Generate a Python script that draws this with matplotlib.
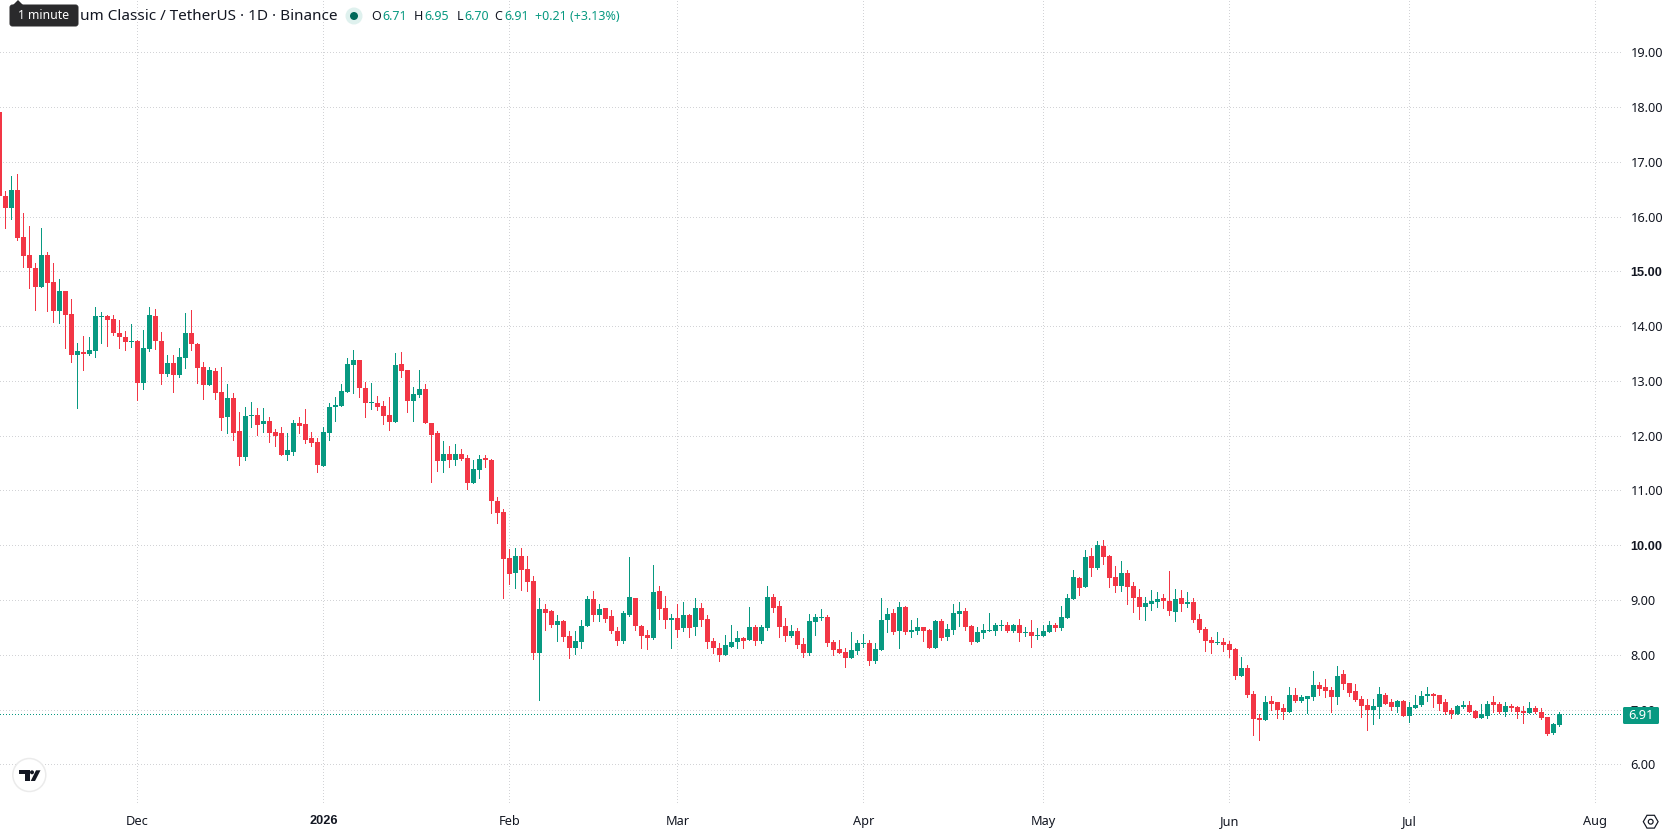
import matplotlib
matplotlib.use("Agg")

import matplotlib.pyplot as plt
import numpy as np
import pandas as pd
from matplotlib.patches import Circle, FancyBboxPatch, Polygon, RegularPolygon

plt.rcParams["font.family"] = ["Noto Sans", "DejaVu Sans"]

UP = "#089981"
DOWN = "#F23645"
INK = "#131722"
GRID = "#D2D3D6"
DOTTED = (0, (0.8, 2.2))
PX = 0.72  # one pixel in points at dpi 100

start_date = "2025-11-08"

opens = [
    17.91, 16.38, 16.15, 16.49, 15.62, 15.29, 15.06, 14.72, 15.29, 14.80,
    14.27, 14.65, 14.22, 13.47, 13.53, 13.49, 13.55, 14.17, 14.18, 14.13,
    13.87, 13.80, 13.71, 13.73, 12.96, 13.58, 14.18, 13.73, 13.13, 13.33,
    13.11, 13.42, 13.87, 13.67, 13.26, 12.93, 13.18, 12.80, 12.35, 12.69,
    12.09, 11.62, 12.36, 12.38, 12.22, 12.27, 12.07, 12.04, 11.64, 11.71,
    12.24, 12.22, 11.95, 11.89, 11.45, 12.05, 12.53, 12.55, 12.80, 13.29,
    13.38, 12.87, 12.60, 12.60, 12.55, 12.38, 12.25, 13.31, 13.20, 12.64,
    12.75, 12.85, 12.24, 12.04, 11.53, 11.67, 11.56, 11.67, 11.60, 11.13,
    11.38, 11.60, 11.55, 10.81, 10.61, 9.77, 9.50, 9.81, 9.57, 9.35,
    8.04, 8.84, 8.79, 8.55, 8.61, 8.35, 8.12, 8.24, 8.52, 9.01,
    8.73, 8.86, 8.70, 8.44, 8.26, 8.73, 9.04, 8.52, 8.37, 8.30,
    9.17, 8.86, 8.63, 8.68, 8.48, 8.73, 8.50, 8.86, 8.66, 8.26,
    8.13, 7.99, 8.15, 8.23, 8.30, 8.27, 8.51, 8.25, 8.49, 9.05,
    8.89, 8.53, 8.35, 8.44, 8.20, 8.04, 8.60, 8.67, 8.69, 8.24,
    8.11, 8.05, 7.94, 8.07, 8.20, 8.22, 7.89, 8.09, 8.64, 8.76,
    8.44, 8.87, 8.42, 8.44, 8.51, 8.45, 8.13, 8.62, 8.33, 8.45,
    8.75, 8.80, 8.53, 8.24, 8.40, 8.44, 8.44, 8.53, 8.55, 8.44,
    8.55, 8.40, 8.42, 8.35, 8.35, 8.42, 8.55, 8.49, 8.67, 9.02,
    9.40, 9.24, 9.80, 9.58, 9.98, 9.80, 9.42, 9.25, 9.49, 9.25,
    9.05, 8.87, 8.93, 8.96, 9.04, 8.98, 8.78, 9.04, 8.93, 8.96,
    8.65, 8.47, 8.27, 8.22, 8.24, 8.20, 8.11, 7.62, 7.75, 7.29,
    6.84, 6.80, 7.15, 7.13, 7.02, 6.96, 7.27, 7.16, 7.20, 7.22,
    7.44, 7.42, 7.35, 7.22, 7.64, 7.49, 7.33, 7.20, 7.09, 7.00,
    7.05, 7.27, 7.13, 7.05, 7.16, 6.89, 7.02, 7.09, 7.24, 7.29,
    7.27, 7.13, 7.00, 6.91, 7.04, 7.09, 6.98, 6.85, 6.89, 7.13,
    7.11, 6.95, 7.07, 7.04, 6.98, 6.93, 7.02, 6.96, 6.87, 6.58, 6.71,
]

highs = [
    17.91, 16.47, 16.75, 16.78, 16.07, 15.82, 15.16, 15.80, 15.36, 15.15,
    14.87, 14.65, 14.49, 13.69, 13.82, 13.80, 14.35, 14.25, 14.20, 14.20,
    14.11, 13.91, 14.04, 13.75, 13.93, 14.35, 14.31, 13.89, 13.47, 13.47,
    13.60, 14.24, 14.29, 13.69, 13.35, 13.26, 13.24, 13.26, 12.95, 12.78,
    12.44, 12.53, 12.62, 12.51, 12.51, 12.35, 12.13, 12.15, 12.04, 12.29,
    12.35, 12.49, 12.07, 11.96, 12.16, 12.60, 12.71, 12.95, 13.42, 13.56,
    13.38, 12.98, 12.96, 12.73, 12.64, 12.71, 13.51, 13.53, 13.20, 12.89,
    13.20, 12.95, 12.24, 12.09, 11.91, 11.82, 11.85, 11.75, 11.64, 11.55,
    11.64, 11.64, 11.58, 10.88, 10.66, 9.93, 9.95, 9.95, 9.81, 9.44,
    9.03, 8.93, 8.81, 8.73, 8.64, 8.44, 8.44, 8.63, 9.08, 9.17,
    8.92, 8.86, 8.81, 8.50, 8.79, 9.79, 9.04, 8.55, 8.46, 9.64,
    9.26, 9.08, 8.75, 8.93, 8.97, 8.75, 9.03, 8.95, 8.73, 8.30,
    8.21, 8.37, 8.55, 8.44, 8.33, 8.87, 8.55, 8.55, 9.25, 9.11,
    8.98, 8.67, 8.55, 8.49, 8.31, 8.75, 8.75, 8.84, 8.73, 8.27,
    8.27, 8.13, 8.42, 8.27, 8.38, 8.27, 8.22, 9.04, 8.85, 8.84,
    8.96, 8.89, 8.64, 8.67, 8.51, 8.47, 8.64, 8.65, 8.56, 8.93,
    8.96, 8.85, 8.55, 8.51, 8.56, 8.76, 8.58, 8.64, 8.60, 8.56,
    8.65, 8.51, 8.64, 8.49, 8.55, 8.62, 8.58, 8.89, 9.11, 9.55,
    9.42, 9.91, 9.95, 10.07, 10.09, 9.82, 9.62, 9.71, 9.55, 9.33,
    9.20, 9.05, 9.18, 9.15, 9.11, 9.53, 9.20, 9.18, 9.15, 9.04,
    8.75, 8.51, 8.33, 8.42, 8.31, 8.25, 8.13, 7.96, 7.82, 7.33,
    6.91, 7.25, 7.25, 7.13, 7.11, 7.42, 7.40, 7.27, 7.25, 7.71,
    7.51, 7.56, 7.42, 7.80, 7.73, 7.49, 7.47, 7.24, 7.20, 7.20,
    7.42, 7.31, 7.20, 7.18, 7.18, 7.13, 7.27, 7.33, 7.42, 7.31,
    7.27, 7.20, 7.02, 7.09, 7.16, 7.15, 7.00, 7.11, 7.15, 7.25,
    7.13, 7.13, 7.11, 7.07, 7.07, 7.13, 7.07, 7.02, 6.87, 6.76, 6.95,
]

lows = [
    16.30, 15.79, 15.95, 15.57, 15.08, 14.70, 14.29, 14.72, 14.27, 14.07,
    14.05, 13.60, 13.35, 12.51, 13.20, 13.47, 13.44, 13.69, 13.64, 13.84,
    13.60, 13.56, 13.62, 12.66, 12.85, 13.55, 13.58, 12.95, 13.09, 12.80,
    13.07, 13.24, 13.56, 12.96, 12.67, 12.93, 12.67, 12.11, 12.04, 11.93,
    11.47, 11.55, 12.16, 12.02, 12.07, 11.89, 11.82, 11.64, 11.56, 11.65,
    12.04, 11.87, 11.82, 11.33, 11.45, 11.93, 12.27, 12.55, 12.80, 12.78,
    12.71, 12.35, 12.49, 12.47, 12.22, 12.11, 12.25, 13.07, 12.44, 12.27,
    12.71, 12.24, 11.16, 11.35, 11.33, 11.42, 11.47, 11.56, 11.02, 11.13,
    11.22, 11.42, 10.59, 10.41, 9.03, 9.30, 9.21, 9.19, 9.17, 7.93,
    7.17, 8.46, 8.50, 8.25, 8.26, 7.95, 8.01, 8.12, 8.52, 8.61,
    8.61, 8.59, 8.39, 8.17, 8.21, 8.70, 8.46, 8.12, 8.10, 8.28,
    8.66, 8.48, 8.13, 8.32, 8.44, 8.33, 8.37, 8.52, 8.13, 8.04,
    7.88, 7.99, 8.15, 8.13, 8.12, 8.27, 8.18, 8.22, 8.45, 8.78,
    8.33, 8.25, 8.33, 8.13, 7.96, 8.00, 8.36, 8.64, 8.16, 8.00,
    8.04, 7.78, 7.94, 8.02, 8.15, 7.82, 7.85, 8.09, 8.42, 8.38,
    8.13, 8.38, 8.33, 8.38, 8.25, 8.13, 8.13, 8.27, 8.27, 8.38,
    8.53, 8.45, 8.20, 8.24, 8.31, 8.43, 8.36, 8.45, 8.42, 8.42,
    8.25, 8.35, 8.15, 8.29, 8.35, 8.42, 8.44, 8.45, 8.67, 9.02,
    9.09, 9.24, 9.44, 9.56, 9.65, 9.24, 9.15, 9.16, 8.93, 8.78,
    8.65, 8.64, 8.82, 8.87, 8.85, 8.73, 8.62, 8.80, 8.87, 8.60,
    8.42, 8.07, 8.04, 8.20, 8.07, 7.96, 7.56, 7.62, 7.22, 6.53,
    6.45, 6.80, 7.00, 6.85, 6.82, 6.96, 7.13, 7.13, 6.93, 7.18,
    7.27, 7.22, 6.96, 7.11, 7.38, 7.25, 7.15, 6.87, 6.62, 6.73,
    6.85, 7.10, 7.00, 6.96, 6.89, 6.78, 7.02, 7.07, 7.15, 7.05,
    7.00, 6.91, 6.84, 6.91, 7.03, 6.96, 6.84, 6.84, 6.85, 6.95,
    6.93, 6.89, 6.98, 6.84, 6.76, 6.93, 6.93, 6.82, 6.53, 6.56, 6.70,
]

closes = [
    16.37, 16.15, 16.49, 15.61, 15.28, 15.06, 14.72, 15.29, 14.79, 14.27,
    14.65, 14.20, 13.47, 13.55, 13.49, 13.56, 14.18, 14.18, 14.11, 13.87,
    13.80, 13.71, 13.72, 12.96, 13.60, 14.20, 13.73, 13.13, 13.33, 13.11,
    13.44, 13.87, 13.67, 13.24, 12.93, 13.20, 12.78, 12.33, 12.69, 12.05,
    11.62, 12.36, 12.38, 12.20, 12.27, 12.05, 12.00, 11.64, 11.73, 12.24,
    12.18, 11.93, 11.87, 11.47, 12.07, 12.53, 12.56, 12.82, 13.31, 13.38,
    12.87, 12.60, 12.62, 12.53, 12.36, 12.25, 13.29, 13.18, 12.64, 12.76,
    12.85, 12.24, 12.02, 11.53, 11.67, 11.56, 11.67, 11.58, 11.13, 11.40,
    11.58, 11.55, 10.80, 10.59, 9.75, 9.48, 9.81, 9.55, 9.33, 8.04,
    8.84, 8.77, 8.55, 8.61, 8.32, 8.13, 8.26, 8.53, 9.01, 8.73,
    8.84, 8.66, 8.43, 8.26, 8.77, 9.06, 8.52, 8.35, 8.30, 9.15,
    8.84, 8.64, 8.68, 8.46, 8.73, 8.48, 8.86, 8.64, 8.24, 8.12,
    7.99, 8.17, 8.24, 8.30, 8.26, 8.51, 8.25, 8.51, 9.05, 8.85,
    8.51, 8.35, 8.44, 8.18, 8.04, 8.62, 8.69, 8.69, 8.22, 8.09,
    8.04, 7.94, 8.09, 8.22, 8.22, 7.89, 8.11, 8.64, 8.75, 8.42,
    8.87, 8.42, 8.45, 8.51, 8.44, 8.13, 8.62, 8.31, 8.47, 8.76,
    8.80, 8.51, 8.24, 8.42, 8.45, 8.45, 8.55, 8.55, 8.44, 8.55,
    8.40, 8.42, 8.35, 8.36, 8.44, 8.55, 8.49, 8.69, 9.04, 9.42,
    9.22, 9.78, 9.58, 10.00, 9.78, 9.40, 9.25, 9.49, 9.24, 9.04,
    8.87, 8.95, 8.98, 9.02, 8.98, 8.80, 9.02, 8.93, 8.96, 8.64,
    8.45, 8.25, 8.22, 8.24, 8.18, 8.09, 7.62, 7.75, 7.27, 6.82,
    6.80, 7.13, 7.11, 7.00, 6.96, 7.27, 7.16, 7.22, 7.24, 7.44,
    7.38, 7.33, 7.22, 7.62, 7.47, 7.31, 7.18, 7.07, 7.00, 7.07,
    7.29, 7.11, 7.05, 7.16, 6.89, 7.04, 7.09, 7.25, 7.29, 7.25,
    7.11, 6.96, 6.91, 7.07, 7.09, 6.96, 6.85, 6.91, 7.11, 7.09,
    6.95, 7.07, 7.02, 6.96, 6.93, 7.02, 6.95, 6.84, 6.56, 6.73, 6.91,
]

price_ticks = [6, 7, 8, 9, 10, 11, 12, 13, 14, 15, 16, 17, 18, 19]
bold_prices = [10, 15]
month_dates = ["2025-12-01", "2026-01-01", "2026-02-01", "2026-03-01", "2026-04-01",
               "2026-05-01", "2026-06-01", "2026-07-01", "2026-08-01"]
month_labels = ["Dec", "2026", "Feb", "Mar", "Apr", "May", "Jun", "Jul", "Aug"]

title_text = "um Classic / TetherUS · 1D · Binance"
last_change = "+0.21 (+3.13%)"


def embolden(label):
    # the regular family has no bold face installed
    label.set_fontfamily("Liberation Sans")
    label.set_fontweight("bold")


def draw_candles(ax):
    x = np.arange(len(closes))
    o = np.array(opens)
    c = np.array(closes)
    colors = [UP if up else DOWN for up in c >= o]

    ax.vlines(x, lows, highs, colors=colors, linewidth=PX, antialiased=False, zorder=2)
    ax.bar(x, np.abs(c - o), bottom=np.minimum(o, c), width=5 / 6,
           color=colors, linewidth=0, zorder=3)
    price_line = ax.axhline(closes[-1], color=UP, linewidth=PX, linestyle=DOTTED, zorder=1.5)
    price_line.set_antialiased(False)


def style_axes(ax):
    ax.set_xlim(0.11, 270.45)
    ax.set_ylim(5.257, 19.955)
    for spine in ax.spines.values():
        spine.set_visible(False)

    start = pd.Timestamp(start_date)
    ax.set_xticks([(pd.Timestamp(d) - start).days for d in month_dates])
    ax.set_xticklabels(month_labels)
    ax.yaxis.tick_right()
    ax.set_yticks(price_ticks)
    ax.set_yticklabels([f"{p:.2f}" for p in price_ticks])
    ax.tick_params(axis="both", length=0, labelsize=9.2, labelcolor=INK)
    ax.tick_params(axis="x", pad=7)
    ax.tick_params(axis="y", pad=6)

    for label, price in zip(ax.get_yticklabels(), price_ticks):
        if price in bold_prices:
            embolden(label)
    embolden(ax.get_xticklabels()[month_labels.index("2026")])

    ax.set_axisbelow(True)
    ax.grid(True, color=GRID, linewidth=PX, linestyle=DOTTED)
    for line in ax.get_xgridlines() + ax.get_ygridlines():
        line.set_antialiased(False)


def draw_header(ov):
    ov.text(80, 16, title_text, fontsize=11, color=INK, va="center", ha="left")

    ov.add_patch(Circle((354, 16), 8.5, facecolor="#DFF1EE", edgecolor="none"))
    ov.add_patch(Circle((354, 16), 4, facecolor="#00695A", edgecolor="none"))

    labels = ["O", "H", "L", "C"]
    label_x = [371, 414, 457, 494]
    value_x = [382, 424, 464, 504]
    values = [opens[-1], highs[-1], lows[-1], closes[-1]]
    for name, lx, vx, value in zip(labels, label_x, value_x, values):
        ov.text(lx, 16, name, fontsize=9, color=INK, va="center", ha="left")
        ov.text(vx, 16, f"{value:.2f}", fontsize=9, color=UP, va="center", ha="left")
    ov.text(535, 16, last_change, fontsize=9, color=UP, va="center", ha="left")

    # tooltip sitting over the start of the symbol name
    ov.add_patch(Polygon([(13, 5), (18, 0), (23, 5)], facecolor="#2A2A2C", edgecolor="none"))
    ov.add_patch(FancyBboxPatch((10, 5), 68, 21, boxstyle="round,pad=0,rounding_size=2.5",
                                facecolor="#2A2A2C", edgecolor="#2A2A2C", linewidth=PX))
    ov.text(44, 15.5, "1 minute", fontsize=8.8, color="white", va="center", ha="center")


def draw_last_price_tag(ov):
    ov.add_patch(FancyBboxPatch((1623, 707), 36, 17, boxstyle="round,pad=0,rounding_size=1.5",
                                facecolor=UP, edgecolor="none"))
    ov.text(1641, 715.5, f"{closes[-1]:.2f}", fontsize=9.2, color="white",
            va="center", ha="center")


def draw_logo(ov):
    ov.add_patch(Circle((29.3, 775), 16.5, facecolor="white", edgecolor="#EBEBEB", linewidth=PX * 1.5))
    ov.add_patch(Polygon([(19, 770.3), (29.5, 770.3), (29.5, 781), (24.5, 781), (24.5, 774), (19, 774)],
                         facecolor=INK, edgecolor="none"))
    ov.add_patch(Circle((32, 772.3), 2, facecolor=INK, edgecolor="none"))
    ov.add_patch(Polygon([(36, 770.3), (40.5, 770.3), (35, 781), (30.7, 781)],
                         facecolor=INK, edgecolor="none"))


def draw_settings_icon(ov):
    ov.add_patch(RegularPolygon((1650.7, 821.7), 6, radius=7.4, orientation=np.pi / 2,
                                facecolor="none", edgecolor=INK, linewidth=PX * 1.2))
    ov.add_patch(Circle((1650.7, 821.7), 2.4, facecolor="none", edgecolor=INK, linewidth=PX * 1.2))


def main():
    fig = plt.figure(figsize=(16.78, 8.35), dpi=100, facecolor="white")
    ax = fig.add_axes([0, 30 / 835, 1622 / 1678, 805 / 835])
    draw_candles(ax)
    style_axes(ax)

    # overlay in pixel units for the header, tag and logo
    ov = fig.add_axes([0, 0, 1, 1])
    ov.set_xlim(0, 1678)
    ov.set_ylim(835, 0)
    ov.axis("off")
    draw_header(ov)
    draw_last_price_tag(ov)
    draw_logo(ov)
    draw_settings_icon(ov)

    fig.savefig("out.png", dpi=100)
    plt.close(fig)


if __name__ == "__main__":
    main()
